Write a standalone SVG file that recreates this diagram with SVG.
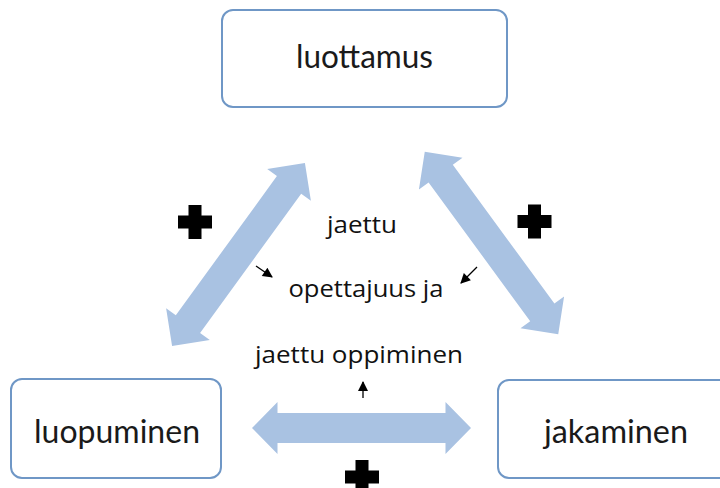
<svg xmlns="http://www.w3.org/2000/svg" width="720" height="488" viewBox="0 0 720 488">
  <defs>
    <style>
      .box { fill: #ffffff; stroke: #6f97c6; stroke-width: 2; }
      .label { font-family: "Lato", "Liberation Sans", sans-serif; font-size: 32px; fill: #1a1a1a; text-anchor: middle; }
      .center { font-family: "Open Sans", "DejaVu Sans", sans-serif; font-size: 24px; fill: #111111; text-anchor: middle; }
      .big { fill: #a9c2e2; }
      .plus { fill: #000000; }
      .small { stroke: #000000; stroke-width: 1.3; fill: none; }
    </style>
    <marker id="head" viewBox="0 0 10 10" refX="9" refY="5" markerWidth="11" markerHeight="10" orient="auto" markerUnits="userSpaceOnUse">
      <path d="M0,0 L10,5 L0,10 Z" fill="#000000"/>
    </marker>
    <path id="plusShape" d="M-6.5,-17 H6.5 V-6.5 H17 V6.5 H6.5 V17 H-6.5 V6.5 H-17 V-6.5 H-6.5 Z"/>
  </defs>

  <g id="connectors">
    <path class="big" transform="translate(238.5,254.5) rotate(-54)" d="M-113,0 L-86,-27 L-86,-15 L86,-15 L86,-27 L113,0 L86,27 L86,15 L-86,15 L-86,27 Z"/>
    <path class="big" transform="translate(491.5,243) rotate(53.8)" d="M-113,0 L-86,-27 L-86,-15 L86,-15 L86,-27 L113,0 L86,27 L86,15 L-86,15 L-86,27 Z"/>
    <path class="big" transform="translate(361.5,428)" d="M-109.5,0 L-84,-26 L-84,-15 L84,-15 L84,-26 L109.5,0 L84,26 L84,15 L-84,15 L-84,26 Z"/>
    <line class="small" x1="256" y1="266" x2="272" y2="277" marker-end="url(#head)"/>
    <line class="small" x1="477" y1="267" x2="461" y2="283" marker-end="url(#head)"/>
    <line class="small" x1="363" y1="398" x2="363" y2="382" marker-end="url(#head)"/>
  </g>

  <g id="node-luottamus">
    <rect class="box" x="222" y="10" width="285" height="97" rx="11"/>
    <text class="label" x="364.5" y="68" textLength="137" lengthAdjust="spacingAndGlyphs">luottamus</text>
  </g>

  <g id="node-luopuminen">
    <rect class="box" x="11" y="379" width="210" height="99" rx="11"/>
    <text class="label" x="117" y="443" textLength="166" lengthAdjust="spacingAndGlyphs">luopuminen</text>
  </g>

  <g id="node-jakaminen">
    <rect class="box" x="498" y="380" width="240" height="98" rx="11"/>
    <text class="label" x="616" y="443" textLength="144" lengthAdjust="spacingAndGlyphs">jakaminen</text>
  </g>

  <g id="center-text">
    <text class="center" x="362" y="233" textLength="70" lengthAdjust="spacingAndGlyphs">jaettu</text>
    <text class="center" x="366" y="297" textLength="155" lengthAdjust="spacingAndGlyphs">opettajuus ja</text>
    <text class="center" x="359" y="363" textLength="208" lengthAdjust="spacingAndGlyphs">jaettu oppiminen</text>
  </g>

  <g id="plus-signs">
    <use href="#plusShape" class="plus" x="195" y="222"/>
    <use href="#plusShape" class="plus" x="534.5" y="221.5"/>
    <use href="#plusShape" class="plus" x="362" y="477"/>
  </g>
</svg>
